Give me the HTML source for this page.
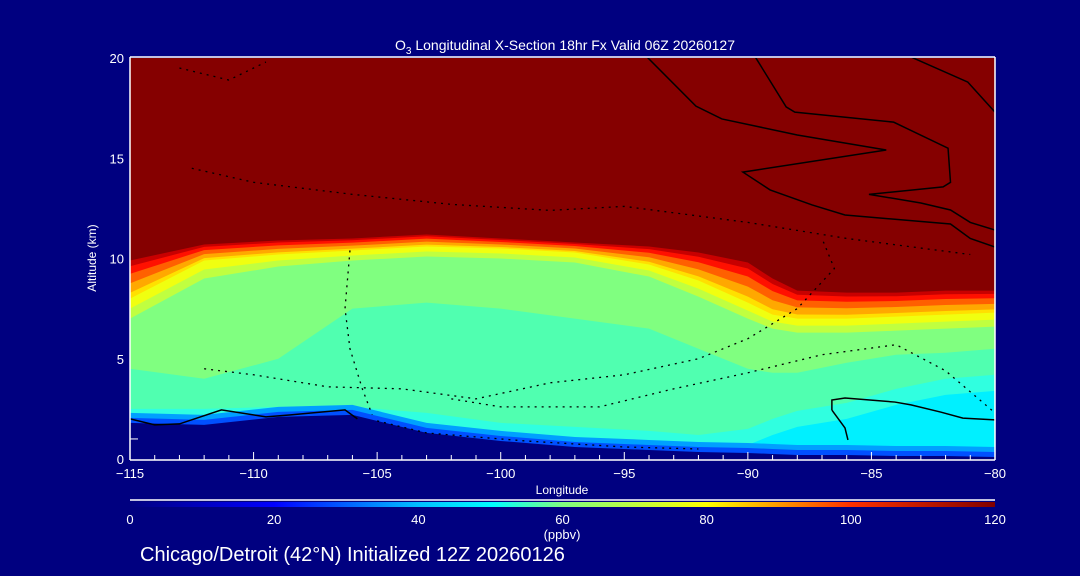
<!DOCTYPE html>
<html><head><meta charset="utf-8"><style>
html,body{margin:0;padding:0;background:#000080;}
svg{display:block;}
text{font-family:"Liberation Sans",sans-serif;fill:#fff;}
</style></head><body>
<svg id="chart" width="1080" height="576" viewBox="0 0 1080 576" xmlns="http://www.w3.org/2000/svg">
<defs>
<linearGradient id="cbar" x1="0" x2="1" y1="0" y2="0">
<stop offset="0" stop-color="#000080"/><stop offset="0.167" stop-color="#0000ff"/>
<stop offset="0.333" stop-color="#00c0ff"/><stop offset="0.42" stop-color="#00ffff"/>
<stop offset="0.5" stop-color="#80ff80"/><stop offset="0.667" stop-color="#ffff00"/>
<stop offset="0.833" stop-color="#ff3000"/><stop offset="1" stop-color="#800000"/>
</linearGradient>
<clipPath id="pc"><rect x="130" y="58" width="865" height="401"/></clipPath>
</defs>
<g id="field" clip-path="url(#pc)"></g>
<g id="contours" clip-path="url(#pc)"></g>
<g id="axes"></g>
<text x="565" y="50" font-size="14" text-anchor="middle">O<tspan font-size="10" dy="4">3</tspan><tspan dy="-4"> Longitudinal X-Section 18hr  Fx Valid 06Z 20260127</tspan></text>
<text x="562" y="494" font-size="12" text-anchor="middle">Longitude</text>
<text x="96" y="258" font-size="12" text-anchor="middle" transform="rotate(-90 96 258)">Altitude (km)</text>
<line x1="130" y1="500" x2="995" y2="500" stroke="#fff" stroke-width="1.5"/>
<rect x="130" y="502" width="865" height="5" fill="url(#cbar)"/>
<g id="cbticks"></g>
<text x="562" y="539" font-size="13" text-anchor="middle">(ppbv)</text>
<text x="140" y="561" font-size="20">Chicago/Detroit (42°N) Initialized 12Z 20260126</text>
</svg>
<script>
const lons = [-115,-112,-109,-106,-103,-100,-97,-94,-92,-90,-89,-88,-86,-84,-82,-80];
const tropo = [9.9,10.7,10.9,11.0,11.2,11.0,10.8,10.6,10.3,9.8,9.0,8.4,8.3,8.3,8.4,8.4];
const yellowEnd = [8.0,9.9,10.2,10.4,10.6,10.5,10.3,9.7,8.9,7.8,7.2,7.0,7.0,7.1,7.2,7.3];
const lgreenEnd = [7.0,9.0,9.6,9.9,10.1,10.0,9.8,9.1,8.1,7.0,6.5,6.3,6.3,6.4,6.5,6.6];
const tealTop = [4.5,4.0,5.0,7.5,7.8,7.5,7.0,6.5,5.5,4.5,4.3,4.3,4.8,5.2,5.3,5.5];
const cyanTop = [2.5,2.5,2.6,2.6,2.3,1.8,1.6,1.4,1.2,1.5,2.0,2.4,2.8,3.5,4.0,4.2];
const ground = [1.8,1.7,2.1,2.2,1.3,0.9,0.6,0.45,0.35,0.3,0.25,0.2,0.2,0.15,0.15,0.1];
const xTicks = [-115,-110,-105,-100,-95,-90,-85,-80];
const yTicks = [0,5,10,15,20];
const cbLabels = [0,20,40,60,80,100,120];
const solidContours = [
 [[-94.08,20.05],[-92.1,17.6],[-91.05,16.96],[-88.0,16.16],[-84.4,15.41],[-90.2,14.31],[-89.1,13.42],[-87.4,12.67],[-86.07,12.17],[-81.8,11.72],[-81.0,11.0],[-80,10.57]],
 [[-89.7,20.05],[-88.45,17.56],[-88.1,17.3],[-84.1,16.8],[-81.9,15.5],[-81.8,13.8],[-82.1,13.57],[-85.1,13.2],[-83.0,12.77],[-81.8,12.42],[-81.0,11.8],[-80,11.42]],
 [[-83.4,20.05],[-81.1,18.8],[-80,17.3]],
 [[-86.6,2.44],[-86.6,2.94],[-86.07,3.04],[-84.05,2.84],[-83.4,2.7],[-82.2,2.34],[-81.3,2.04],[-80,1.95]],
 [[-86.6,2.44],[-86.07,1.55],[-85.95,0.95]],
 [[-115,2.0],[-114,1.7],[-113,1.75],[-111.3,2.45],[-109.5,2.1],[-108.5,2.2],[-106.3,2.45],[-105.8,2.0]]
];
const dottedContours = [
 [[-106.1,10.4],[-106.3,7.5],[-106.1,5.5],[-105.6,3.5],[-105.2,2.2]],
 [[-112,4.5],[-110,4.2],[-107,3.6],[-104,3.5],[-101,3.0],[-98,3.8],[-95,4.2],[-92,5.0],[-90,6.0],[-88,7.5],[-86.5,9.5],[-87,11]],
 [[-102,3.0],[-100,2.6],[-96,2.6],[-93,3.5],[-90,4.3],[-87,5.2],[-84,5.7],[-82,4.4],[-80,2.3]],
 [[-112.5,14.5],[-110,13.8],[-106,13.2],[-102,12.7],[-98,12.4],[-95,12.6],[-90,11.8],[-86,11.0],[-81,10.2]],
 [[-113,19.5],[-111,18.9],[-109.5,19.8]],
 [[-105,1.9],[-103,1.3],[-99,0.9],[-95,0.6],[-92,0.5]]
];
const X = lon => 130 + (lon + 115) * 865 / 35;
const Y = km => 459 - km * 20.05;
const NS = 'http://www.w3.org/2000/svg';
function mk(tag, attrs, parent){const e=document.createElementNS(NS,tag);for(const k in attrs)e.setAttribute(k,attrs[k]);parent.appendChild(e);return e;}
const field = document.getElementById('field');
function bandMix(a, b, f, color, name){
  const v = i => a[i] + (b[i]-a[i])*f;
  let d = 'M'+X(lons[0])+','+Y(v(0));
  for(let i=1;i<lons.length;i++) d += ' L'+X(lons[i])+','+Y(v(i));
  d += ' L'+X(-80)+',470 L'+X(-115)+',470 Z';
  const p = mk('path',{d:d,fill:color},field);
  
  
}
function band(arr, color, name, off){
  const shifted = arr.map(v=>v+(off||0));
  bandMix(shifted, shifted, 0, color, name);
}
const bg = mk('rect',{x:130,y:58,width:865,height:401,fill:'#850000'},field);


bandMix(tropo,yellowEnd,0,'#c80000','band-dark-red');
bandMix(tropo,yellowEnd,0.15,'#ff1000','band-red');
bandMix(tropo,yellowEnd,0.35,'#ff6000','band-orange');
bandMix(tropo,yellowEnd,0.6,'#ffa800','band-light-orange');
bandMix(tropo,yellowEnd,0.85,'#ffe000','band-gold');
band(yellowEnd,'#f0ff10','band-yellow',0);
bandMix(yellowEnd,lgreenEnd,0.5,'#c0ff40','band-yellow-green');
band(lgreenEnd,'#80ff80','band-light-green',0);
band(tealTop,'#50ffb0','band-teal',0);
band(cyanTop,'#30ffe0','band-aqua',0);
band(cyanTop,'#00f0ff','band-cyan',-0.8);
band(ground,'#00a0ff','band-light-blue',0.5);
band(ground,'#0050ff','band-blue',0.25);
band(ground,'#000080','ground-region',0);
const cg = document.getElementById('contours');
solidContours.forEach(c=>{
  const p = mk('polyline',{points:c.map(q=>X(q[0])+','+Y(q[1])).join(' '),fill:'none',stroke:'#000','stroke-width':1.5},cg);
  
  
});
dottedContours.forEach(c=>{
  const p = mk('polyline',{points:c.map(q=>X(q[0])+','+Y(q[1])).join(' '),fill:'none',stroke:'#000','stroke-width':1.3,'stroke-dasharray':'2 5'},cg);
  
  
});
const ax = document.getElementById('axes');
mk('line',{x1:130,y1:57,x2:995,y2:57,stroke:'#fff','stroke-width':1.5},ax);
mk('line',{x1:995,y1:57,x2:995,y2:460,stroke:'#fff','stroke-width':1.5},ax);
mk('line',{x1:130,y1:460,x2:995,y2:460,stroke:'#fff','stroke-width':1.5},ax);
mk('line',{x1:130,y1:57,x2:130,y2:460,stroke:'#fff','stroke-width':1.5},ax);
for(let l=-115;l<=-80;l++){
  const major = l%5===0;
  mk('line',{x1:X(l),y1:460,x2:X(l),y2:major?452:455,stroke:'#fff','stroke-width':1},ax);
}
xTicks.forEach(v=>{
  const t = mk('text',{x:X(v),y:478,'font-size':13,'text-anchor':'middle'},ax);
  t.textContent = v===0?'0':'\u2212'+Math.abs(v);
  
  
});
yTicks.forEach(v=>{
  const t = mk('text',{x:124,y:Y(v)+5,'font-size':13,'text-anchor':'end'},ax);
  t.textContent = v;
  
  
});
mk('line',{x1:130,y1:Y(1),x2:138,y2:Y(1),stroke:'#fff','stroke-width':1},ax);
const cb = document.getElementById('cbticks');
cbLabels.forEach((v,i)=>{
  const t = mk('text',{x:130+i*865/6,y:524,'font-size':13,'text-anchor':'middle'},cb);
  t.textContent = v;
  
  
});
</script>
</body></html>
